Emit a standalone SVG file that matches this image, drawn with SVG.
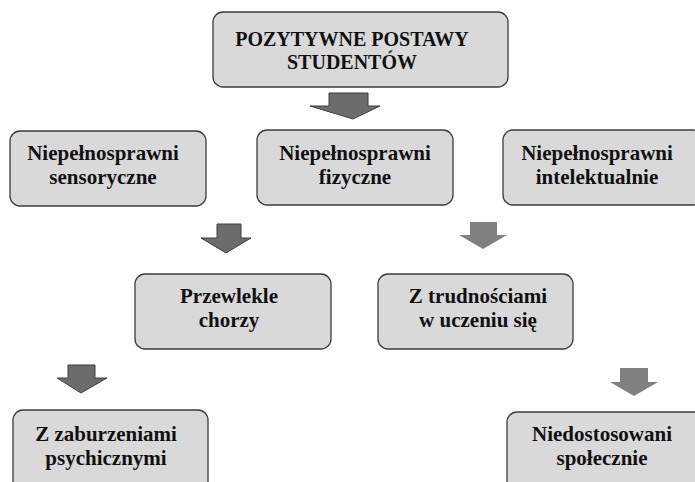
<svg xmlns="http://www.w3.org/2000/svg" width="695" height="482" viewBox="0 0 695 482">
<style>
.box{fill:#d9d9d9;stroke:#3c3c3c;stroke-width:1.3}
.t{font-family:"Liberation Serif","Times New Roman",serif;font-weight:bold;font-size:21px;fill:#111;text-anchor:middle}
.tt{font-size:20px}
.ad{fill:#6c6c6c;stroke:#3f3f3f;stroke-width:1}
.al{fill:#808080}
</style>
<rect width="695" height="482" fill="#fff"/>
<g id="connectors">
<path class="ad" d="M329,93 H368 V106 H380 L353,119 L310,106 H329 Z"/>
<path class="ad" d="M217,224 H241 V238 H251 L226,253 L201,238 H217 Z"/>
<path class="al" d="M470,222 H497 V235 H507 L483,249 L459,235 H470 Z"/>
<path class="ad" d="M68,365 H95 V378 H107 L81,393 L57,378 H68 Z"/>
<path class="al" d="M620,368 H648 V382 H658 L634,396 L610,382 H620 Z"/>
</g>
<g id="n-top">
<rect class="box" x="213" y="12" width="295" height="75" rx="10"/>
<text class="t tt" x="352" y="46">POZYTYWNE POSTAWY</text>
<text class="t tt" x="352" y="69">STUDENTÓW</text>
</g>
<g id="n-sens">
<rect class="box" x="10" y="131" width="196" height="75" rx="10"/>
<text class="t" x="103" y="160">Niepełnosprawni</text>
<text class="t" x="103" y="183.5">sensoryczne</text>
</g>
<g id="n-fiz">
<rect class="box" x="257" y="130" width="196" height="75" rx="10"/>
<text class="t" x="355" y="160">Niepełnosprawni</text>
<text class="t" x="355" y="183.5">fizyczne</text>
</g>
<g id="n-int">
<rect class="box" x="503" y="130" width="200" height="75" rx="10"/>
<text class="t" x="597" y="160">Niepełnosprawni</text>
<text class="t" x="597" y="183.5">intelektualnie</text>
</g>
<g id="n-przew">
<rect class="box" x="135" y="274" width="196" height="75" rx="10"/>
<text class="t" x="229" y="303">Przewlekle</text>
<text class="t" x="229" y="326.5">chorzy</text>
</g>
<g id="n-trud">
<rect class="box" x="378" y="274" width="195" height="75" rx="10"/>
<text class="t" x="478" y="303">Z trudnościami</text>
<text class="t" x="478" y="326.5">w uczeniu się</text>
</g>
<g id="n-zab">
<rect class="box" x="13" y="410" width="195" height="85" rx="10"/>
<text class="t" x="106" y="441">Z zaburzeniami</text>
<text class="t" x="106" y="464.5">psychicznymi</text>
</g>
<g id="n-nied">
<rect class="box" x="507" y="412" width="200" height="85" rx="10"/>
<text class="t" x="602" y="441">Niedostosowani</text>
<text class="t" x="602" y="464.5">społecznie</text>
</g>
</svg>
